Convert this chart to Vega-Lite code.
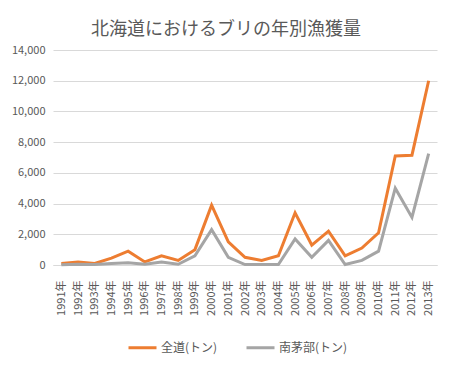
{
  "$schema": "https://vega.github.io/schema/vega-lite/v6.json",
  "autosize": {"type": "none"},
  "width": 384,
  "height": 215,
  "padding": {"left": 53, "top": 50, "right": 15, "bottom": 100},
  "background": "white",
  "title": {
    "text": "北海道におけるブリの年別漁獲量",
    "font": "Noto Sans CJK JP",
    "fontSize": 18,
    "fontWeight": "normal",
    "color": "#595959",
    "anchor": "middle",
    "dx": -19,
    "offset": 5
  },
  "data": {
    "values": [
      {"year": "1991年", "series": "全道(トン)", "value": 100},
      {"year": "1992年", "series": "全道(トン)", "value": 200},
      {"year": "1993年", "series": "全道(トン)", "value": 100},
      {"year": "1994年", "series": "全道(トン)", "value": 450},
      {"year": "1995年", "series": "全道(トン)", "value": 900},
      {"year": "1996年", "series": "全道(トン)", "value": 200},
      {"year": "1997年", "series": "全道(トン)", "value": 600},
      {"year": "1998年", "series": "全道(トン)", "value": 300},
      {"year": "1999年", "series": "全道(トン)", "value": 1000},
      {"year": "2000年", "series": "全道(トン)", "value": 3900},
      {"year": "2001年", "series": "全道(トン)", "value": 1500},
      {"year": "2002年", "series": "全道(トン)", "value": 500},
      {"year": "2003年", "series": "全道(トン)", "value": 300},
      {"year": "2004年", "series": "全道(トン)", "value": 600},
      {"year": "2005年", "series": "全道(トン)", "value": 3400},
      {"year": "2006年", "series": "全道(トン)", "value": 1300},
      {"year": "2007年", "series": "全道(トン)", "value": 2200},
      {"year": "2008年", "series": "全道(トン)", "value": 600},
      {"year": "2009年", "series": "全道(トン)", "value": 1100},
      {"year": "2010年", "series": "全道(トン)", "value": 2100},
      {"year": "2011年", "series": "全道(トン)", "value": 7100},
      {"year": "2012年", "series": "全道(トン)", "value": 7150},
      {"year": "2013年", "series": "全道(トン)", "value": 12000},
      {"year": "1991年", "series": "南茅部(トン)", "value": 20},
      {"year": "1992年", "series": "南茅部(トン)", "value": 50},
      {"year": "1993年", "series": "南茅部(トン)", "value": 40},
      {"year": "1994年", "series": "南茅部(トン)", "value": 100},
      {"year": "1995年", "series": "南茅部(トン)", "value": 150},
      {"year": "1996年", "series": "南茅部(トン)", "value": 50},
      {"year": "1997年", "series": "南茅部(トン)", "value": 200},
      {"year": "1998年", "series": "南茅部(トン)", "value": 50},
      {"year": "1999年", "series": "南茅部(トン)", "value": 600},
      {"year": "2000年", "series": "南茅部(トン)", "value": 2300},
      {"year": "2001年", "series": "南茅部(トン)", "value": 500},
      {"year": "2002年", "series": "南茅部(トン)", "value": 30},
      {"year": "2003年", "series": "南茅部(トン)", "value": 30},
      {"year": "2004年", "series": "南茅部(トン)", "value": 30},
      {"year": "2005年", "series": "南茅部(トン)", "value": 1700},
      {"year": "2006年", "series": "南茅部(トン)", "value": 500},
      {"year": "2007年", "series": "南茅部(トン)", "value": 1600},
      {"year": "2008年", "series": "南茅部(トン)", "value": 30},
      {"year": "2009年", "series": "南茅部(トン)", "value": 300},
      {"year": "2010年", "series": "南茅部(トン)", "value": 900},
      {"year": "2011年", "series": "南茅部(トン)", "value": 5000},
      {"year": "2012年", "series": "南茅部(トン)", "value": 3100},
      {"year": "2013年", "series": "南茅部(トン)", "value": 7250}
    ]
  },
  "mark": {"type": "line", "strokeWidth": 3, "strokeJoin": "miter", "strokeCap": "butt"},
  "encoding": {
    "x": {
      "field": "year",
      "type": "ordinal",
      "scale": {"type": "point", "padding": 0.5},
      "axis": {
        "title": null,
        "labelAngle": -90,
        "labelAlign": "right",
        "labelBaseline": "middle",
        "labelPadding": 15,
        "labelFontSize": 11,
        "labelColor": "#595959",
        "labelFont": "Noto Sans CJK JP",
        "ticks": false,
        "domainColor": "#d9d9d9",
        "domainWidth": 1
      }
    },
    "y": {
      "field": "value",
      "type": "quantitative",
      "scale": {"domain": [0, 14000], "nice": false},
      "axis": {
        "title": null,
        "values": [0, 2000, 4000, 6000, 8000, 10000, 12000, 14000],
        "format": ",d",
        "labelFontSize": 11,
        "labelColor": "#595959",
        "labelFont": "Noto Sans CJK JP",
        "labelPadding": 8,
        "ticks": false,
        "domain": false,
        "gridColor": "#d9d9d9",
        "gridWidth": 1
      }
    },
    "color": {
      "field": "series",
      "type": "nominal",
      "scale": {"domain": ["全道(トン)", "南茅部(トン)"], "range": ["#ED7D31", "#A5A5A5"]},
      "legend": {
        "title": null,
        "orient": "none",
        "direction": "horizontal",
        "legendX": 74,
        "legendY": 282,
        "symbolType": "stroke",
        "symbolSize": 784,
        "symbolStrokeWidth": 3,
        "labelFontSize": 12,
        "labelColor": "#595959",
        "labelFont": "Noto Sans CJK JP",
        "columnPadding": 22,
        "labelOffset": 3
      }
    }
  },
  "config": {
    "view": {"stroke": null},
    "font": "Noto Sans CJK JP"
  }
}
